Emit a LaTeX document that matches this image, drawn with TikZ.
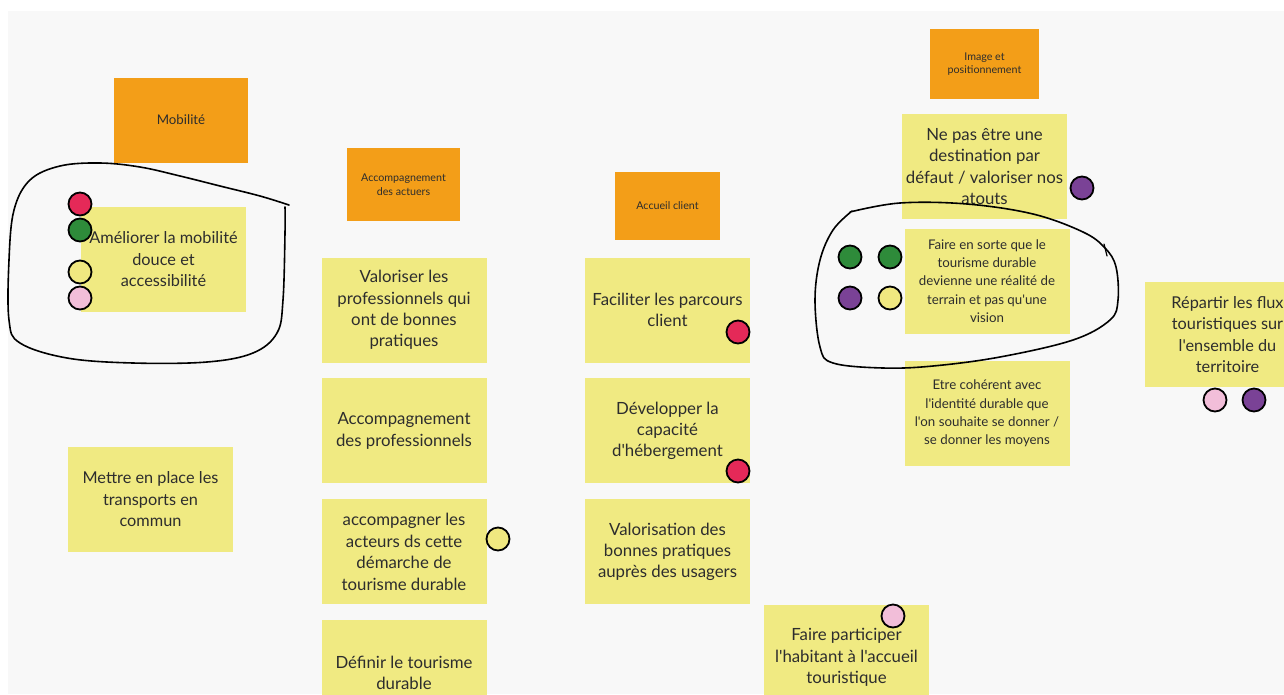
\documentclass[tikz,border=0pt]{standalone}
\usepackage{fontspec}
\setmainfont[Ligatures=TeXOff]{Lato}
\usetikzlibrary{positioning}
\definecolor{boardcolor}{RGB}{248,248,248}
\definecolor{headcolor}{RGB}{243,158,24}
\definecolor{notecolor}{RGB}{240,234,130}
\definecolor{inkcolor}{RGB}{45,45,45}
\definecolor{redvote}{RGB}{229,41,88}
\definecolor{greenvote}{RGB}{46,139,58}
\definecolor{purplevote}{RGB}{122,66,150}
\definecolor{pinkvote}{RGB}{242,190,217}
\definecolor{yellowvote}{RGB}{240,232,128}

\begin{document}
\begin{tikzpicture}[%
    x=1pt, y=-1pt,              % one unit is one pixel of the board
    node distance=15.5pt,       % gap between stacked notes
    ]
\tikzset{
  theme/.style={fill=headcolor, text=inkcolor, align=center, inner sep=0pt,
    font=\fontsize{10.7}{13.5}\selectfont},
  sticky/.style={fill=notecolor, text=inkcolor, align=center, inner sep=0pt,
    minimum width=165pt, minimum height=105pt, font=\fontsize{16.8}{21.4}\selectfont},
  smallsticky/.style={sticky, font=\fontsize{13.3}{18.3}\selectfont},
  vote/.style={circle, draw=black, line width=1.8pt, inner sep=0pt, minimum size=23pt},
  lasso/.style={draw=black, line width=1.6pt, line cap=round, line join=round},
}

\useasboundingbox (0,0) rectangle (1284,694);
\clip (0,0) rectangle (1284,694);
\fill[white] (0,0) rectangle (1284,694);
\fill[boardcolor] (8,11) rectangle (1284,694);

% themes
\node [theme, minimum width=134pt, minimum height=85pt, font=\fontsize{13.3}{15}\selectfont]
  (mob) at (181,120) {Mobilité};
\node [theme, minimum width=113pt, minimum height=73pt] (act) at (403.5,184.5)
  {Accompagnement\\des actuers};
\node [theme, minimum width=105pt, minimum height=68pt] (cli) at (667.5,206) {Accueil client};
\node [theme, minimum width=109pt, minimum height=70pt] (img) at (984.5,64)
  {Image et\\positionnement};

% mobilite
\node [sticky, font=\fontsize{16.3}{21.5}\selectfont] (mob1) at (163.5,259.5)
  {Améliorer la mobilité\\douce et\\accessibilité};
\node [sticky, font=\fontsize{16.3}{21.5}\selectfont] (mob2) at (150.5,499.5)
  {Mettre en place les\\transports en\\commun};

% accompagnement des acteurs
\node [sticky] (act1) at (404,310) {Valoriser les\\professionnels qui\\ont de bonnes\\pratiques};
\node [sticky, below=of act1] (act2) {Accompagnement\\des professionnels};
\node [sticky, below=of act2] (act3) {accompagner les\\acteurs ds cette\\démarche de\\tourisme durable};
\node [sticky, below=of act3] (act4) {Définir le tourisme\\durable};

% accueil client
\node [sticky] (cli1) at (667.5,310) {Faciliter les parcours\\client};
\node [sticky, below=of cli1] (cli2) {Développer la\\capacité\\d'hébergement};
\node [sticky, below=of cli2] (cli3) {Valorisation des\\bonnes pratiques\\auprès des usagers};
\node [sticky] (cli4) at (846.5,657.5) {Faire participer\\l'habitant à l'accueil\\touristique};

% image et positionnement
\node [sticky] (img1) at (984.5,166.5) {Ne pas être une\\destination par\\défaut / valoriser nos\\atouts};
\node [smallsticky] (img2) at (987,281) {Faire en sorte que le\\tourisme durable\\devienne une réalité de\\terrain et pas qu'une\\vision};
\node [smallsticky] (img3) at (987,413.5) {Etre cohérent avec\\l'identité durable que\\l'on souhaite se donner /\\se donner les moyens};
\node [sticky, font=\fontsize{16.3}{21.5}\selectfont] (img4) at (1227.5,334.5)
  {Répartir les flux\\touristiques sur\\l'ensemble du\\territoire};

% votes
\node [vote, fill=redvote] (v1) at (80,204) {};
\node [vote, fill=greenvote] (v2) at (80,230) {};
\node [vote, fill=yellowvote] (v3) at (80,272) {};
\node [vote, fill=pinkvote] (v4) at (80,298) {};
\node [vote, fill=redvote] (v5) at (738,332) {};
\node [vote, fill=redvote] (v6) at (738,471) {};
\node [vote, fill=yellowvote] (v7) at (498,539) {};
\node [vote, fill=pinkvote] (v8) at (893,616) {};
\node [vote, fill=purplevote] (v9) at (1082,188) {};
\node [vote, fill=greenvote] (v10) at (850,257) {};
\node [vote, fill=greenvote] (v11) at (890,257) {};
\node [vote, fill=purplevote] (v12) at (850,298) {};
\node [vote, fill=yellowvote] (v13) at (890,298) {};
\node [vote, fill=pinkvote] (v14) at (1215,400) {};
\node [vote, fill=purplevote] (v15) at (1254,400) {};

% hand drawn circles
\draw [lasso] plot [smooth, tension=0.6] coordinates {
  (289,205) (260,196) (220,186) (180,176) (140,167) (100,163) (60,166)
  (30,180) (14,210) (9,260) (9,320) (20,343) (67,358) (133,363) (207,362)
  (253,353) (277,333) (283,300) (285,233) (285,207)};
\draw [lasso] plot [smooth, tension=0.6] coordinates {
  (850,212) (900,203) (967,204) (1033,214) (1083,232) (1105,248)
  (1116,267) (1118,300) (1110,320) (1073,340) (1000,357) (933,366)
  (883,368) (833,363) (820,347) (815,300) (820,260) (833,230) (852,211)};
\draw [lasso, line width=1.2pt] (1104,244) -- (1107,256);

\end{tikzpicture}
\end{document}
